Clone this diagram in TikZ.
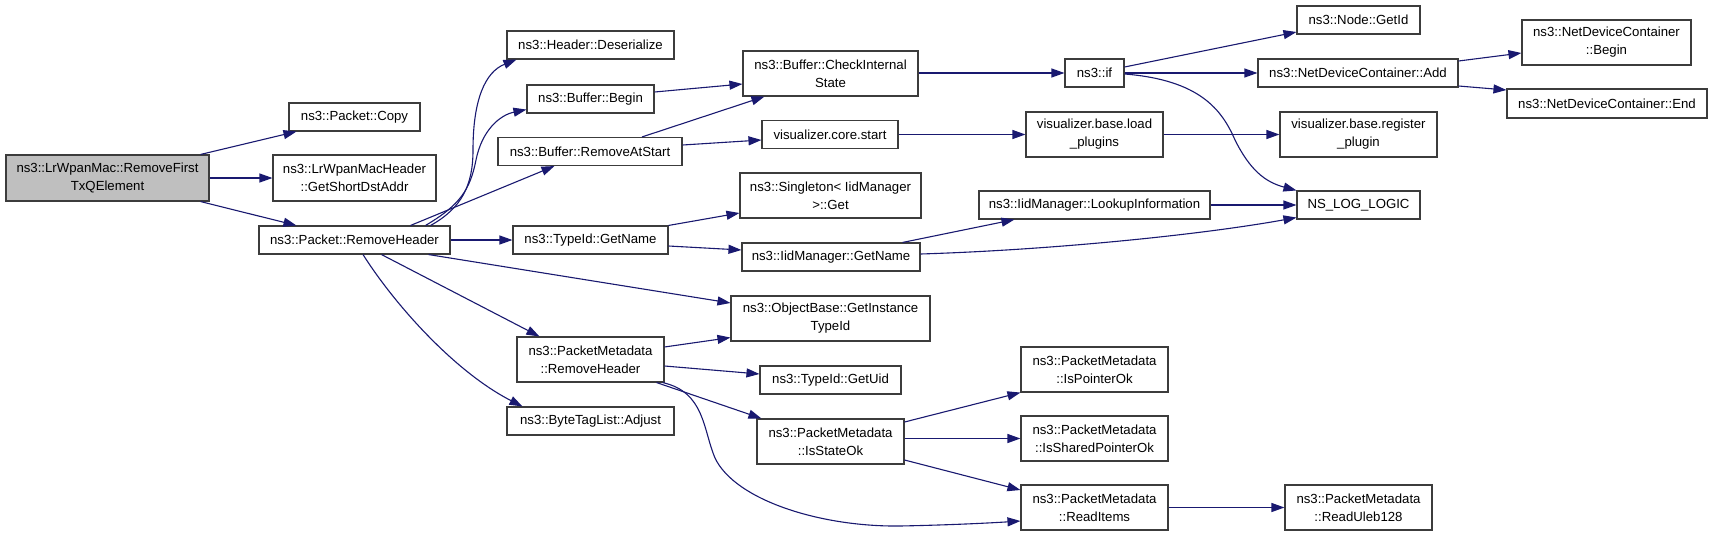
\documentclass[tikz,border=0pt]{standalone}
\usepackage{fontspec}
\setmainfont{Liberation Sans}
\usetikzlibrary{arrows.meta,calc}
\definecolor{edgecol}{RGB}{25,25,112}
\definecolor{bordercol}{RGB}{60,60,60}
\definecolor{mainfill}{RGB}{191,191,191}
\tikzset{
  fnbox/.style={draw=bordercol, line width=1.1pt, fill=white, inner sep=0pt, align=center,
    font=\fontsize{13.2}{18}\selectfont},
  calledge/.style={draw=edgecol, line width=1.1pt, -{Triangle[length=13pt,width=9pt]}}
}
\begin{document}
\begin{tikzpicture}[x=1pt,y=-1pt]
\useasboundingbox[fill=white] (0,0) rectangle (1712,536);
% column 0
\node[fnbox, fill=mainfill, minimum width=203pt, minimum height=46pt] (main) at (107.5,178) {ns3::LrWpanMac::RemoveFirst\\TxQElement};
% column 1
\node[fnbox, minimum width=131pt, minimum height=28pt] (copy) at (354.5,117) {ns3::Packet::Copy};
\node[fnbox, minimum width=163pt, minimum height=46pt] (short) at (354.5,178) {ns3::LrWpanMacHeader\\::GetShortDstAddr};
\node[fnbox, minimum width=191pt, minimum height=28pt] (rh) at (354.5,240) {ns3::Packet::RemoveHeader};
% column 2
\node[fnbox, minimum width=167pt, minimum height=28pt] (deser) at (590.5,45) {ns3::Header::Deserialize};
\node[fnbox, minimum width=127pt, minimum height=28pt] (begin) at (590.5,99) {ns3::Buffer::Begin};
\node[fnbox, minimum width=184pt, minimum height=28pt] (ras) at (590,151.5) {ns3::Buffer::RemoveAtStart};
\node[fnbox, minimum width=155pt, minimum height=28pt] (tgn) at (590.5,240) {ns3::TypeId::GetName};
\node[fnbox, minimum width=147pt, minimum height=45pt] (pmrh) at (590.5,359.5) {ns3::PacketMetadata\\::RemoveHeader};
\node[fnbox, minimum width=167pt, minimum height=28pt] (adjust) at (590.5,421) {ns3::ByteTagList::Adjust};
% column 3
\node[fnbox, minimum width=175pt, minimum height=45pt] (cis) at (830.5,73.5) {ns3::Buffer::CheckInternal\\State};
\node[fnbox, minimum width=136pt, minimum height=28pt] (vcs) at (830,134.5) {visualizer.core.start};
\node[fnbox, minimum width=181pt, minimum height=45pt] (sing) at (830.5,195.5) {ns3::Singleton< IidManager\\ >::Get};
\node[fnbox, minimum width=178pt, minimum height=28pt] (ign) at (831,257) {ns3::IidManager::GetName};
\node[fnbox, minimum width=199pt, minimum height=45pt] (gitid) at (830.5,318.5) {ns3::ObjectBase::GetInstance\\TypeId};
\node[fnbox, minimum width=141pt, minimum height=28pt] (uid) at (830.5,380) {ns3::TypeId::GetUid};
\node[fnbox, minimum width=147pt, minimum height=45pt] (iso) at (830.5,441.5) {ns3::PacketMetadata\\::IsStateOk};
% column 4
\node[fnbox, minimum width=59pt, minimum height=28pt] (if) at (1094.5,73) {ns3::if};
\node[fnbox, minimum width=137pt, minimum height=45pt] (lp) at (1094.5,134.5) {visualizer.base.load\\\_plugins};
\node[fnbox, minimum width=231pt, minimum height=28pt] (lookup) at (1094.5,205) {ns3::IidManager::LookupInformation};
\node[fnbox, minimum width=147pt, minimum height=45pt] (ipo) at (1094.5,369.5) {ns3::PacketMetadata\\::IsPointerOk};
\node[fnbox, minimum width=147pt, minimum height=45pt] (ispo) at (1094.5,438.5) {ns3::PacketMetadata\\::IsSharedPointerOk};
\node[fnbox, minimum width=147pt, minimum height=45pt] (ri) at (1094.5,507.5) {ns3::PacketMetadata\\::ReadItems};
% column 5
\node[fnbox, minimum width=123pt, minimum height=28pt] (getid) at (1358.5,20) {ns3::Node::GetId};
\node[fnbox, minimum width=200pt, minimum height=28pt] (add) at (1358,73) {ns3::NetDeviceContainer::Add};
\node[fnbox, minimum width=157pt, minimum height=45pt] (reg) at (1358.5,134.5) {visualizer.base.register\\\_plugin};
\node[fnbox, minimum width=123pt, minimum height=28pt] (nslog) at (1358.5,205) {NS\_LOG\_LOGIC};
\node[fnbox, minimum width=147pt, minimum height=45pt] (uleb) at (1358.5,507.5) {ns3::PacketMetadata\\::ReadUleb128};
% column 6
\node[fnbox, minimum width=169pt, minimum height=45pt] (ndcb) at (1606.5,42.5) {ns3::NetDeviceContainer\\::Begin};
\node[fnbox, minimum width=200pt, minimum height=29pt] (ndce) at (1607,103.5) {ns3::NetDeviceContainer::End};

% edges
\draw[calledge] ($(main.north east)+(-9,0)$) -- ($(copy.south west)+(8,0)$);
\draw[calledge] (main.east) -- (short.west);
\draw[calledge] ($(main.south east)+(-9,0)$) -- ($(rh.north west)+(38,0)$);

\draw[calledge] ($(rh.north east)+(-20,0)$) .. controls (462,208) and (473,185) .. (473,150) .. controls (473,100) and (485,72) .. ($(deser.south west)+(10,0)$);
\draw[calledge] ($(rh.north east)+(-25,0)$) .. controls (460,205) and (470,190) .. (476,160) .. controls (482,130) and (500,115) .. ($(begin.south west)+(0,-4)$);
\draw[calledge] ($(rh.north east)+(-40,0)$) -- ($(ras.south west)+(57,0)$);
\draw[calledge] (rh.east) -- (tgn.west);
\draw[calledge] ($(rh.south east)+(-22,0)$) -- ($(gitid.west)+(0,-15.5)$);
\draw[calledge] ($(rh.south)+(27,0)$) -- ($(pmrh.north west)+(23,0)$);
\draw[calledge] ($(rh.south)+(8.5,0)$) .. controls (395,305) and (455,372) .. ($(adjust.north west)+(16,0)$);

\draw[calledge] ($(begin.east)+(0,-7)$) -- ($(cis.west)+(0,10.5)$);
\draw[calledge] ($(ras.north)+(52,0)$) -- ($(cis.south west)+(22,0)$);
\draw[calledge] ($(ras.east)+(0,-6.5)$) -- ($(vcs.west)+(0,5.5)$);
\draw[calledge] (if.west -| cis.east) -- (if.west);
\draw[calledge] (vcs.east) -- (lp.west);
\draw[calledge] (lp.east) -- (reg.west);

\draw[calledge] ($(if.east)+(0,-6)$) -- ($(getid.west)+(0,12)$);
\draw[calledge] (if.east) -- (add.west);
\draw[calledge] ($(if.east)+(0,1)$) .. controls (1200,80) and (1222,110) .. (1235,140) .. controls (1250,170) and (1265,182) .. (nslog.north west);
\draw[calledge] ($(add.east)+(0,-12)$) -- ($(ndcb.west)+(0,10.5)$);
\draw[calledge] ($(add.east)+(0,13)$) -- ($(ndce.west)+(0,-13.5)$);

\draw[calledge] (tgn.north east) -- ($(sing.west)+(0,17.5)$);
\draw[calledge] ($(tgn.east)+(0,6)$) -- ($(ign.west)+(0,-7)$);
\draw[calledge] ($(ign.north east)+(-18,0)$) -- ($(lookup.south west)+(36,0)$);
\draw[calledge] (lookup.east) -- (nslog.west);
\draw[calledge] ($(ign.east)+(0,-3)$) .. controls (1050,250) and (1200,235) .. ($(nslog.south west)+(0,-2)$);

\draw[calledge] ($(pmrh.east)+(0,-12.5)$) -- ($(gitid.south west)+(0,-4)$);
\draw[calledge] ($(pmrh.east)+(0,6.5)$) -- ($(uid.west)+(0,-6)$);
\draw[calledge] ($(pmrh.south east)+(-8,0)$) -- ($(iso.north west)+(5,0)$);
\draw[calledge] ($(pmrh.south east)+(-2,0)$) .. controls (705,392) and (703,430) .. (715,458) .. controls (735,500) and (820,527) .. (900,526) .. controls (950,525) and (990,523) .. ($(ri.west)+(0,13.5)$);

\draw[calledge] ($(iso.east)+(0,-19.5)$) -- (ipo.south west);
\draw[calledge] (ispo.west -| iso.east) -- (ispo.west);
\draw[calledge] ($(iso.east)+(0,18.5)$) -- ($(ri.west)+(0,-17.5)$);
\draw[calledge] (ri.east) -- (uleb.west);
\end{tikzpicture}
\end{document}
